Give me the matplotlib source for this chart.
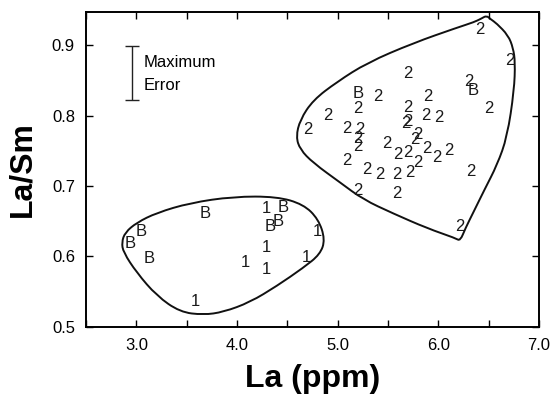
import matplotlib.pyplot as plt
from matplotlib.path import Path
from matplotlib.patches import PathPatch

plt.rcParams['font.family'] = ['Liberation Sans', 'DejaVu Sans']

# samples labelled "2"
x2 = [6.41, 6.71, 5.70, 6.30, 5.40, 5.90, 5.20, 5.70, 6.50, 4.90, 5.88, 6.01,
      5.68, 5.70, 4.70, 5.09, 5.22, 5.80, 5.77, 5.20, 5.20, 5.49, 5.89, 5.60,
      5.70, 6.10, 5.99, 5.09, 5.80, 5.29, 5.42, 5.59, 5.72, 6.32, 5.20, 5.59, 6.21]
y2 = [0.922, 0.878, 0.860, 0.849, 0.827, 0.827, 0.810, 0.811, 0.810, 0.800, 0.800, 0.798,
      0.789, 0.792, 0.780, 0.782, 0.780, 0.773, 0.766, 0.768, 0.756, 0.761, 0.754, 0.745,
      0.747, 0.751, 0.740, 0.736, 0.733, 0.723, 0.717, 0.717, 0.719, 0.720, 0.693, 0.690, 0.642]

# samples labelled "1"
x1 = [4.29, 4.80, 4.29, 4.08, 4.29, 4.69, 3.59]
y1 = [0.668, 0.636, 0.612, 0.592, 0.581, 0.599, 0.536]

# samples labelled "B"
xB = [6.35, 5.20, 3.68, 4.46, 4.41, 4.33, 3.05, 2.94, 3.13]
yB = [0.836, 0.831, 0.661, 0.669, 0.649, 0.642, 0.636, 0.619, 0.597]

# field outlines
upper_x = [6.43, 6.48, 6.52, 6.58, 6.695, 6.744, 6.764, 6.754, 6.685, 6.585, 6.46, 6.35,
           6.27, 6.218, 6.17, 5.890, 5.552, 5.253, 5.025, 4.756, 4.627, 4.587, 4.627, 4.756,
           4.995, 5.293, 5.750, 6.188, 6.36]
upper_y = [0.938, 0.942, 0.937, 0.931, 0.914, 0.896, 0.876, 0.836, 0.770, 0.730, 0.695, 0.663,
           0.640, 0.622, 0.626, 0.640, 0.661, 0.681, 0.705, 0.733, 0.752, 0.770, 0.794, 0.822,
           0.848, 0.875, 0.903, 0.925, 0.933]
lower_x = [3.004, 3.203, 3.534, 3.964, 4.396, 4.660, 4.809, 4.876, 4.826, 4.660, 4.396, 4.130,
           3.865, 3.666, 3.434, 3.203, 3.004, 2.871, 2.855, 2.888]
lower_y = [0.648, 0.662, 0.676, 0.685, 0.685, 0.674, 0.653, 0.624, 0.603, 0.584, 0.558, 0.535,
           0.521, 0.517, 0.521, 0.544, 0.577, 0.606, 0.620, 0.634]


# smooth closed outline through the edge midpoints (quadratic bezier pieces)
def outline(ax, xs, ys):
    pts = list(zip(xs, ys))
    n = len(pts)
    mids = [((pts[i][0] + pts[(i + 1) % n][0]) / 2, (pts[i][1] + pts[(i + 1) % n][1]) / 2)
            for i in range(n)]
    verts = [mids[-1]]
    codes = [Path.MOVETO]
    for i in range(n):
        verts += [pts[i], mids[i]]
        codes += [Path.CURVE3, Path.CURVE3]
    ax.add_patch(PathPatch(Path(verts, codes), facecolor='none', edgecolor='#111111', lw=1.4))


fig = plt.figure(figsize=(5.53, 4.04), dpi=100)
ax = fig.add_axes([0.1555, 0.191, 0.819, 0.779])

outline(ax, upper_x, upper_y)
outline(ax, lower_x, lower_y)

for lab, xs, ys in [('2', x2, y2), ('1', x1, y1), ('B', xB, yB)]:
    for x, y in zip(xs, ys):
        ax.text(x, y, lab, ha='center', va='center', fontsize=12, color='#1a1a1a')

# maximum error bar
ax.errorbar([2.954], [0.8605], yerr=[0.0385], fmt='none', ecolor='#222222',
            elinewidth=1.0, capsize=5, capthick=1.0)
ax.text(3.07, 0.876, 'Maximum', fontsize=12, va='center', ha='left')
ax.text(3.07, 0.843, 'Error', fontsize=12, va='center', ha='left')

ax.set_xlim(2.5, 7.0)
ax.set_ylim(0.5, 0.947)
ax.set_xticks([2.5, 3.0, 3.5, 4.0, 4.5, 5.0, 5.5, 6.0, 6.5, 7.0])
ax.set_xticklabels(['', '3.0', '', '4.0', '', '5.0', '', '6.0', '', '7.0'])
ax.set_yticks([0.5, 0.6, 0.7, 0.8, 0.9])
ax.set_yticklabels(['0.5', '0.6', '0.7', '0.8', '0.9'])
ax.tick_params(direction='in', length=5, width=1.0, top=True, right=True,
               labelsize=12, pad=8)
for s in ax.spines.values():
    s.set_linewidth(1.4)

ax.set_xlabel('La (ppm)', fontsize=23, fontweight='bold', labelpad=8)
ax.set_ylabel('La/Sm', fontsize=23, fontweight='bold', labelpad=10)

fig.savefig('out.png', dpi=100)
